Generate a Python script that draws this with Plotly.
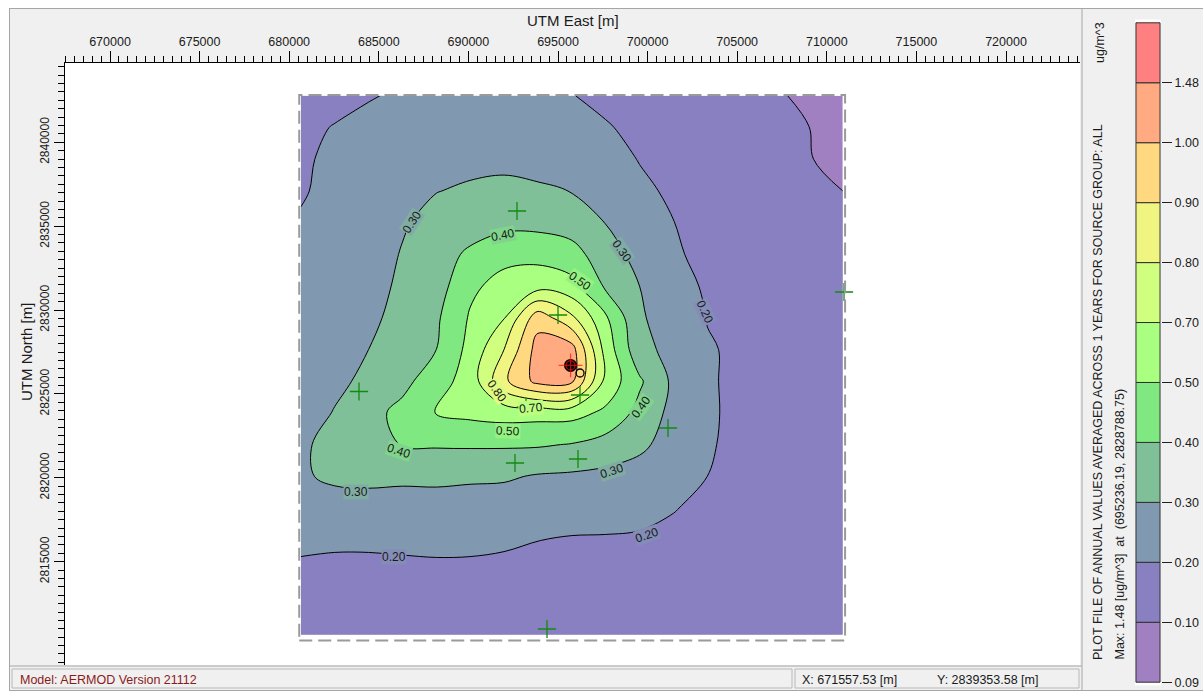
import numpy as np
import plotly.graph_objects as go

W, H = 1203, 695
FONT = "Liberation Sans, Arial, sans-serif"

# ---------------------------------------------------------------------------
# Receptor grid (UTM, metres) and annual average concentration (ug/m^3)
# ---------------------------------------------------------------------------
X_NODES = [680650, 682540, 684430, 686320, 688210, 690100, 691990, 693880, 695770,
           697660, 699550, 701440, 703330, 705220, 707110, 709000, 710890]
# rows run north -> south
Y_NODES = [2842770, 2840880, 2838990, 2837100, 2835210, 2833320, 2831430, 2829540,
           2827650, 2825760, 2823870, 2821980, 2820090, 2818200, 2816310, 2814420,
           2812530, 2810640]

CONC = [
    [0.170, 0.180, 0.195, 0.210, 0.225, 0.235, 0.235, 0.225, 0.202, 0.185, 0.170, 0.155, 0.140, 0.125, 0.112, 0.098, 0.092],
    [0.185, 0.203, 0.220, 0.235, 0.250, 0.260, 0.260, 0.250, 0.230, 0.205, 0.185, 0.170, 0.155, 0.140, 0.125, 0.101, 0.094],
    [0.193, 0.210, 0.235, 0.255, 0.270, 0.280, 0.285, 0.275, 0.260, 0.230, 0.197, 0.180, 0.165, 0.150, 0.135, 0.108, 0.095],
    [0.195, 0.215, 0.240, 0.265, 0.298, 0.310, 0.315, 0.310, 0.298, 0.265, 0.215, 0.188, 0.175, 0.160, 0.140, 0.120, 0.100],
    [0.205, 0.225, 0.250, 0.292, 0.325, 0.345, 0.370, 0.370, 0.350, 0.298, 0.250, 0.201, 0.180, 0.165, 0.150, 0.135, 0.125],
    [0.210, 0.235, 0.262, 0.305, 0.350, 0.420, 0.470, 0.470, 0.440, 0.340, 0.270, 0.210, 0.180, 0.170, 0.155, 0.140, 0.130],
    [0.212, 0.240, 0.270, 0.315, 0.355, 0.480, 0.570, 0.620, 0.560, 0.385, 0.300, 0.230, 0.190, 0.175, 0.160, 0.145, 0.135],
    [0.215, 0.245, 0.280, 0.330, 0.385, 0.520, 0.690, 0.960, 0.820, 0.530, 0.310, 0.260, 0.198, 0.180, 0.165, 0.150, 0.140],
    [0.225, 0.260, 0.300, 0.350, 0.400, 0.560, 0.800, 1.200, 1.200, 0.620, 0.330, 0.270, 0.205, 0.190, 0.175, 0.160, 0.150],
    [0.245, 0.280, 0.320, 0.370, 0.460, 0.580, 0.880, 1.150, 1.100, 0.640, 0.415, 0.280, 0.205, 0.190, 0.175, 0.165, 0.155],
    [0.255, 0.305, 0.365, 0.430, 0.505, 0.550, 0.580, 0.570, 0.570, 0.480, 0.370, 0.270, 0.207, 0.188, 0.180, 0.170, 0.160],
    [0.290, 0.320, 0.360, 0.405, 0.410, 0.412, 0.412, 0.410, 0.395, 0.360, 0.320, 0.260, 0.205, 0.187, 0.178, 0.170, 0.163],
    [0.290, 0.315, 0.318, 0.318, 0.318, 0.315, 0.312, 0.292, 0.285, 0.275, 0.260, 0.235, 0.200, 0.183, 0.175, 0.168, 0.162],
    [0.250, 0.265, 0.270, 0.260, 0.265, 0.255, 0.250, 0.245, 0.240, 0.235, 0.220, 0.203, 0.185, 0.175, 0.170, 0.163, 0.158],
    [0.217, 0.210, 0.210, 0.214, 0.219, 0.217, 0.209, 0.201, 0.194, 0.193, 0.192, 0.185, 0.175, 0.168, 0.163, 0.158, 0.153],
    [0.185, 0.185, 0.185, 0.185, 0.185, 0.185, 0.185, 0.182, 0.178, 0.176, 0.175, 0.172, 0.168, 0.162, 0.158, 0.154, 0.150],
    [0.175, 0.175, 0.175, 0.174, 0.173, 0.172, 0.170, 0.168, 0.165, 0.163, 0.162, 0.160, 0.157, 0.153, 0.150, 0.147, 0.143],
    [0.165, 0.165, 0.165, 0.164, 0.163, 0.162, 0.160, 0.158, 0.156, 0.154, 0.153, 0.151, 0.149, 0.146, 0.143, 0.140, 0.137],
]

# contour levels and the fill colour of each band (band i spans LEVELS[i]..LEVELS[i+1])
LEVELS = [0.09, 0.10, 0.20, 0.30, 0.40, 0.50, 0.70, 0.80, 0.90, 1.00, 1.48]
BAND_COLORS = ["#a080c0", "#8880c0", "#8098b0", "#80c098", "#80e880", "#a8ff80",
               "#d0ff80", "#f0f480", "#ffd880", "#ffaa80", "#ff8080"]

MAX_VALUE = 1.48
MAX_AT = (695236.19, 2828788.75)
CURSOR_AT = (671557.53, 2839353.58)

# labelled axis ticks
X_TICKS = [670000, 675000, 680000, 685000, 690000, 695000, 700000, 705000, 710000, 715000, 720000]
Y_TICKS = [2815000, 2820000, 2825000, 2830000, 2835000, 2840000]

# discrete receptors
RECEPTOR_X = [692712, 695000, 683895, 696228, 693214, 701138, 692600, 696116, 710960, 694386]
RECEPTOR_Y = [2835905, 2829705, 2825145, 2824937, 2824222, 2822970, 2820884, 2821122, 2831077, 2810988]

# source location and nearby structure outline
SOURCE_X, SOURCE_Y = 695700, 2826700
STRUCT_X, STRUCT_Y = 696230, 2826250

# in-line contour labels: (text, easting, northing, angle)
CONTOUR_LABELS = [
    ("0.30", 686853, 2835249, -57),
    ("0.40", 691931, 2834474, -11),
    ("0.30", 698571, 2833520, 55),
    ("0.50", 696228, 2831732, 35),
    ("0.20", 703203, 2829884, 65),
    ("0.80", 691596, 2825175, 55),
    ("0.70", 693493, 2824162, -5),
    ("0.50", 692210, 2822791, 2),
    ("0.40", 686127, 2821599, 18),
    ("0.40", 699632, 2824222, -54),
    ("0.30", 698013, 2820407, -18),
    ("0.30", 683728, 2819155, 0),
    ("0.20", 685848, 2815280, 0),
    ("0.20", 699967, 2816592, -19),
]

# ---------------------------------------------------------------------------
# Map concentrations onto band index space so the uneven level spacing can be
# drawn with a uniform contour step of 1.
# ---------------------------------------------------------------------------
conc = np.array(CONC)
idx_levels = LEVELS + [2.0]
band_z = np.interp(conc, idx_levels, np.arange(len(idx_levels)))

n_bands = len(BAND_COLORS)
colorscale = [[k / (n_bands - 1), c] for k, c in enumerate(BAND_COLORS)]


def px(x):
    return x / W


def py(y):
    return 1 - y / H


def blend(c1, c2):
    a = [int(c1[i:i + 2], 16) for i in (1, 3, 5)]
    b = [int(c2[i:i + 2], 16) for i in (1, 3, 5)]
    return "#" + "".join(f"{(u + v) // 2:02x}" for u, v in zip(a, b))


fig = go.Figure()

fig.add_trace(go.Contour(
    x=X_NODES, y=Y_NODES[::-1], z=band_z[::-1],
    contours=dict(start=1, end=len(LEVELS) - 1, size=1, coloring="fill",
                  showlines=True, showlabels=False),
    colorscale=colorscale,
    line=dict(color="black", width=1, smoothing=1.0),
    showscale=False, hoverinfo="skip",
))

# receptors
fig.add_trace(go.Scatter(
    x=RECEPTOR_X, y=RECEPTOR_Y, mode="markers", hoverinfo="skip",
    marker=dict(symbol="cross-thin", size=13, line=dict(color="#128a12", width=1.3)),
))
# source and nearby structure
fig.add_trace(go.Scatter(
    x=[SOURCE_X], y=[SOURCE_Y], mode="markers", hoverinfo="skip",
    marker=dict(symbol="circle", size=13, color="black"),
))
fig.add_trace(go.Scatter(
    x=[STRUCT_X], y=[STRUCT_Y], mode="markers", hoverinfo="skip",
    marker=dict(symbol="circle-open", size=8, color="black", line=dict(color="black", width=1.3)),
))
fig.add_trace(go.Scatter(
    x=[SOURCE_X, SOURCE_X], y=[SOURCE_Y, SOURCE_Y], mode="markers", hoverinfo="skip",
    marker=dict(symbol=["cross-thin", "circle-open"], size=[17, 9], color="#ff1010",
                line=dict(color="#ff1010", width=1.2)),
))

# colour legend drawn as stacked bands on its own axes
fig.add_trace(go.Bar(
    x=[0] * n_bands, y=[1] * n_bands, base=list(range(n_bands)), width=1,
    marker=dict(color=BAND_COLORS, line=dict(color="#303030", width=1)),
    xaxis="x2", yaxis="y2", hoverinfo="skip",
))

tick_font = dict(family=FONT, size=12.5, color="#1a1a1a")
minor_ticks = dict(ticks="outside", ticklen=6, tickmode="linear", tick0=0, dtick=500,
                   tickcolor="black", tickwidth=1, showgrid=False)

fig.update_layout(
    width=W, height=H, template="none", showlegend=False,
    margin=dict(l=0, r=0, t=0, b=0, pad=0),
    paper_bgcolor="#f0f0f0", plot_bgcolor="white",
    font=dict(family=FONT, color="#1a1a1a"),
    xaxis=dict(domain=[px(65), px(1080)], range=[667489, 724129], side="top", anchor="y",
               ticks="outside", ticklen=11, tickwidth=1, tickcolor="black",
               tickmode="array", tickvals=X_TICKS, ticktext=[str(v) for v in X_TICKS],
               tickfont=tick_font,
               showline=True, linecolor="black", linewidth=1,
               showgrid=False, zeroline=False, automargin=False, fixedrange=True,
               minor=minor_ticks),
    yaxis=dict(domain=[py(665), py(63)], range=[2808843, 2844727], side="left", anchor="x",
               ticks="outside", ticklen=10, tickwidth=1, tickcolor="black",
               tickmode="array", tickvals=Y_TICKS, ticktext=[str(v) for v in Y_TICKS],
               tickangle=-90,
               tickfont=dict(family=FONT, size=12, color="#1a1a1a"),
               showline=True, linecolor="black", linewidth=1,
               showgrid=False, zeroline=False, automargin=False, fixedrange=True,
               minor=minor_ticks),
    xaxis2=dict(domain=[px(1135), px(1161)], range=[-0.54, 0.54], anchor="y2",
                visible=False, fixedrange=True),
    yaxis2=dict(domain=[py(685.5), py(19.5)], range=[-0.055, n_bands + 0.055], anchor="x2",
                side="right", tickvals=list(range(len(LEVELS))),
                ticktext=[f"{v:.2f}" for v in LEVELS],
                ticks="outside", ticklen=10, tickwidth=1, tickcolor="#202020",
                tickfont=tick_font, showline=False, showgrid=False, zeroline=False,
                automargin=False, fixedrange=True),
)


def paper_text(x, y, text, size=12.5, angle=0, color="#1a1a1a", xanchor="center",
               yanchor="middle"):
    return dict(x=px(x), y=py(y), xref="paper", yref="paper", text=text,
                showarrow=False, textangle=angle, xanchor=xanchor, yanchor=yanchor,
                font=dict(family=FONT, size=size, color=color))


ann = []
# contour labels
for text, ex, ny, ang in CONTOUR_LABELS:
    k = LEVELS.index(float(text))
    ann.append(dict(x=ex, y=ny, xref="x", yref="y", text=text, showarrow=False,
                    xanchor="center", yanchor="middle",
                    textangle=ang, font=dict(family=FONT, size=12, color="#1a1a1a"),
                    bgcolor=blend(BAND_COLORS[k - 1], BAND_COLORS[k]), borderpad=0))

ann += [
    paper_text(573, 21, "UTM East [m]", size=15),
    paper_text(26, 352, "UTM North [m]", size=15, angle=-90),
    paper_text(1100, 43, "ug/m^3", angle=-90),
    paper_text(1098, 662, "PLOT FILE OF ANNUAL VALUES AVERAGED ACROSS 1 YEARS FOR SOURCE GROUP: ALL",
               angle=-90, yanchor="bottom"),
    paper_text(1119, 662, (f"Max: {MAX_VALUE:.2f} [ug/m^3]\u00a0\u00a0at\u00a0\u00a0"
                           f"({MAX_AT[0]:.2f}, {MAX_AT[1]:.2f})"),
               angle=-90, yanchor="bottom"),
    paper_text(18, 680, "Model: AERMOD Version 21112", color="#8b1a1a", xanchor="left"),
    paper_text(800, 680, f"X: {CURSOR_AT[0]:.2f} [m]", xanchor="left"),
    paper_text(935, 680, f"Y: {CURSOR_AT[1]:.2f} [m]", xanchor="left"),
]
fig.update_layout(annotations=ann)

gray = "#a6a6a6"
shapes = [
    # grid boundary
    dict(type="rect", xref="x", yref="y", x0=680560, x1=711020, y0=2810300, y1=2842820,
         line=dict(color="#9a9a9a", width=2, dash="13px,6px"), layer="above"),
    # window frame
    dict(type="rect", xref="paper", yref="paper", x0=0, x1=1, y0=py(8), y1=1,
         fillcolor="white", line=dict(width=0), layer="above"),
    dict(type="rect", xref="paper", yref="paper", x0=0, x1=px(9), y0=0, y1=1,
         fillcolor="white", line=dict(width=0), layer="above"),
    dict(type="rect", xref="paper", yref="paper", x0=0, x1=1, y0=0, y1=py(691),
         fillcolor="white", line=dict(width=0), layer="above"),
    dict(type="line", xref="paper", yref="paper", x0=px(9), x1=1, y0=py(8.5), y1=py(8.5),
         line=dict(color=gray, width=1)),
    dict(type="line", xref="paper", yref="paper", x0=px(9.5), x1=px(9.5), y0=py(691), y1=py(8),
         line=dict(color=gray, width=1)),
    dict(type="line", xref="paper", yref="paper", x0=px(1082), x1=px(1082), y0=py(691), y1=py(8),
         line=dict(color=gray, width=1)),
    dict(type="line", xref="paper", yref="paper", x0=px(9.5), x1=px(1082), y0=py(666), y1=py(666),
         line=dict(color=gray, width=1)),
    dict(type="line", xref="paper", yref="paper", x0=px(9.5), x1=1, y0=py(690.5), y1=py(690.5),
         line=dict(color=gray, width=1)),
    # status bar cells
    dict(type="rect", xref="paper", yref="paper", x0=px(12), x1=px(792), y0=py(688), y1=py(669),
         line=dict(color="#b8b8b8", width=1)),
    dict(type="rect", xref="paper", yref="paper", x0=px(795), x1=px(1079), y0=py(688), y1=py(669),
         line=dict(color="#b8b8b8", width=1)),
]
fig.update_layout(shapes=shapes)

fig.write_html("out.html")
